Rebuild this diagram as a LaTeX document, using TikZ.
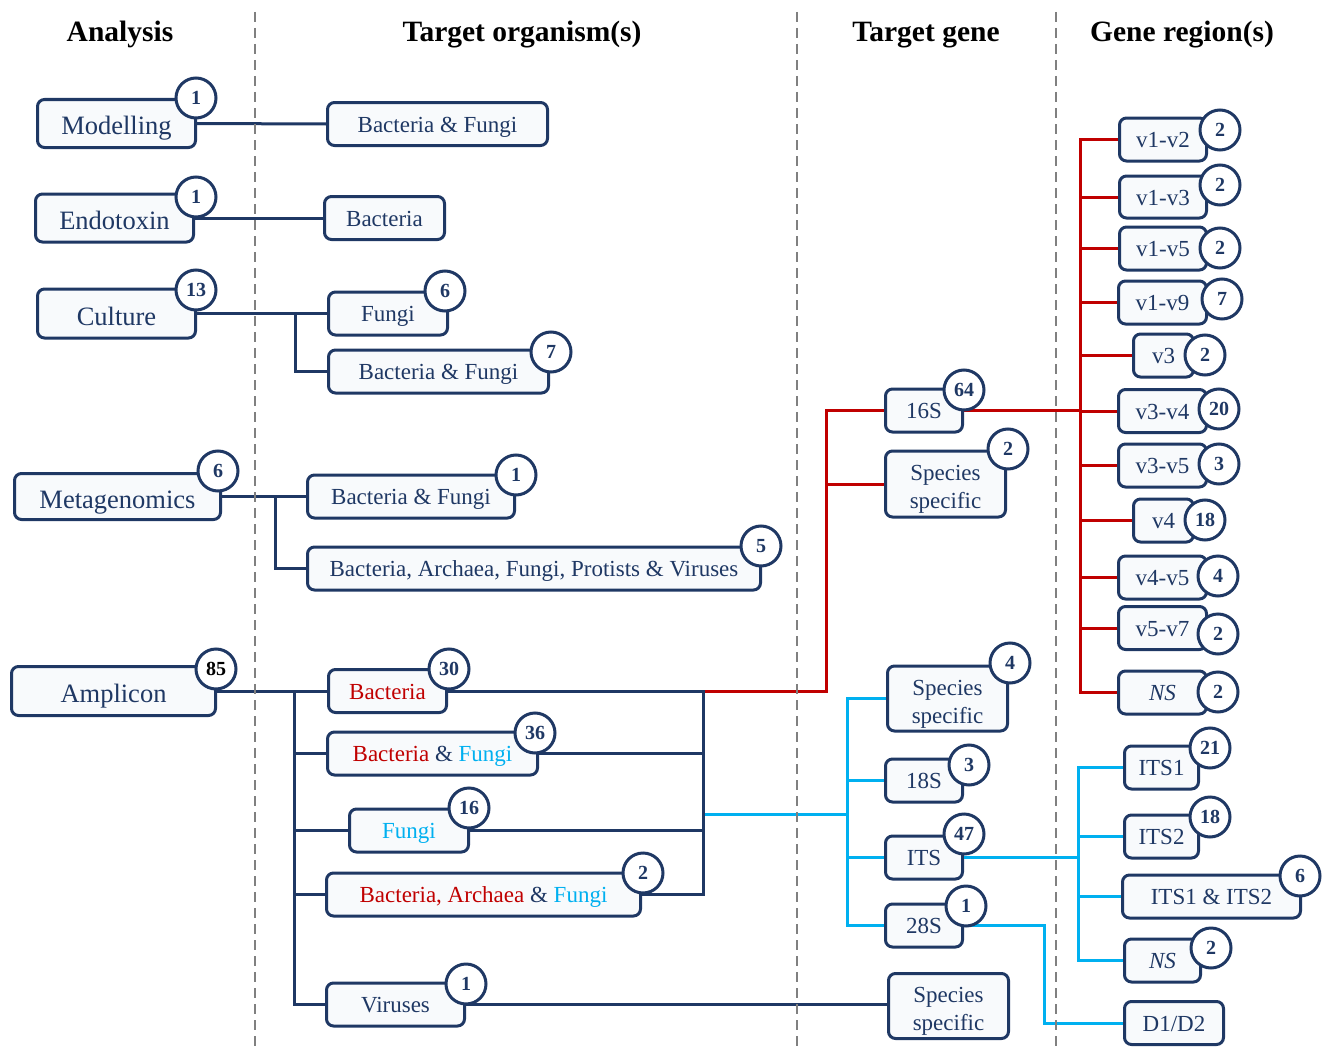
\documentclass[tikz,border=0pt]{standalone}
\usepackage{fontspec}
\setmainfont{Liberation Serif}
\usepackage{tikz}
\usepackage{xcolor}

\definecolor{navy}{RGB}{31,56,100}
\definecolor{bred}{RGB}{192,0,0}
\definecolor{fcyan}{RGB}{0,176,240}
\definecolor{boxfill}{RGB}{248,250,252}
\definecolor{sepgrey}{RGB}{128,128,128}

\newcommand{\specieslabel}{\rule{0pt}{26pt}Species\\specific}

\tikzset{
  box/.style={draw=navy, fill=boxfill, line width=3pt, rounded corners=7pt, inner sep=2pt, text=navy, align=center},
  anabox/.style={box, font=\fontsize{26.5}{30}\selectfont, text height=26pt, text depth=3pt},
  orgbox/.style={box, font=\fontsize{23}{28}\selectfont, text height=20pt, text depth=3.5pt},
  twobox/.style={box, font=\fontsize{23}{28}\selectfont},
  badge/.style={draw=navy, fill=white, circle, line width=3pt, minimum size=40pt, inner sep=0pt, text=navy, font=\fontsize{20}{20}\selectfont\bfseries},
  link/.style={navy, line width=3pt},
  redlink/.style={bred, line width=3pt},
  cyanlink/.style={fcyan, line width=3pt},
  head/.style={font=\fontsize{29.5}{32}\selectfont\bfseries},
  sep/.style={sepgrey, line width=2pt, dash pattern=on 10pt off 6pt}
}

\begin{document}
\begin{tikzpicture}[x=1pt, y=-1pt]
  \useasboundingbox (0,0) rectangle (1326,1049);

  % Headers
  \node[head] (hAna) at (120,34) {Analysis};
  \node[head] (hOrg) at (522,35) {Target organism(s)};
  \node[head] (hGene) at (926,35) {Target gene};
  \node[head] (hReg) at (1182,35) {Gene region(s)};

  % Analysis
  \node[anabox, minimum width=158, minimum height=48] (model) at (116.5,123.5) {Modelling};
  \node[anabox, minimum width=158, minimum height=48] (endo) at (114.5,218) {Endotoxin};
  \node[anabox, minimum width=158, minimum height=49] (cult) at (116.5,313.5) {Culture};
  \node[anabox, minimum width=206, minimum height=46] (meta) at (117.5,496.5) {Metagenomics};
  \node[anabox, minimum width=204, minimum height=49] (ampl) at (113.5,691) {Amplicon};

  % Target organisms
  \node[orgbox, minimum width=220, minimum height=43] (mBF) at (437.5,124) {Bacteria \& Fungi};
  \node[orgbox, minimum width=120, minimum height=43] (eB) at (384.5,218) {Bacteria};
  \node[orgbox, minimum width=119, minimum height=43] (cF) at (388,313.5) {Fungi};
  \node[orgbox, minimum width=220, minimum height=43] (cBF) at (438.5,371.5) {Bacteria \& Fungi};
  \node[orgbox, minimum width=207, minimum height=43] (gBF) at (411,496.5) {Bacteria \& Fungi};
  \node[orgbox, minimum width=453, minimum height=43] (gAll) at (534,568.5) {Bacteria, Archaea, Fungi, Protists \& Viruses};
  \node[orgbox, minimum width=118, minimum height=43] (aB) at (387.5,691) {\textcolor{bred}{Bacteria}};
  \node[orgbox, minimum width=210, minimum height=43] (aBF) at (432.5,753.5) {\textcolor{bred}{Bacteria} \& \textcolor{fcyan}{Fungi}};
  \node[orgbox, minimum width=119, minimum height=43] (aF) at (409,830.5) {\textcolor{fcyan}{Fungi}};
  \node[orgbox, minimum width=314, minimum height=43] (aBAF) at (483.5,894.5) {\textcolor{bred}{Bacteria, Archaea} \& \textcolor{fcyan}{Fungi}};
  \node[orgbox, minimum width=138, minimum height=43] (aV) at (395.5,1004.5) {Viruses};

  % Target genes
  \node[orgbox, minimum width=77, minimum height=43] (g16) at (924,410.5) {16S};
  \node[twobox, minimum width=120, minimum height=66] (gSS1) at (945.5,484) {\specieslabel};
  \node[twobox, minimum width=120, minimum height=65] (gSS2) at (947.5,698.5) {\specieslabel};
  \node[orgbox, minimum width=77, minimum height=43] (g18) at (924,780.5) {18S};
  \node[orgbox, minimum width=77, minimum height=43] (gITS) at (924,857.5) {ITS};
  \node[orgbox, minimum width=77, minimum height=43] (g28) at (924,925.5) {28S};
  \node[twobox, minimum width=120, minimum height=65] (gSS3) at (948.5,1006) {\specieslabel};

  % Gene regions
  \node[orgbox, minimum width=87, minimum height=43] (v12) at (1163,139.5) {v1-v2};
  \node[orgbox, minimum width=87, minimum height=42] (v13) at (1163,197) {v1-v3};
  \node[orgbox, minimum width=87, minimum height=43] (v15) at (1163,248.5) {v1-v5};
  \node[orgbox, minimum width=88, minimum height=43] (v19) at (1162.5,302.5) {v1-v9};
  \node[orgbox, minimum width=60, minimum height=43] (v3) at (1163.5,355.5) {v3};
  \node[orgbox, minimum width=88, minimum height=43] (v34) at (1162.5,411) {v3-v4};
  \node[orgbox, minimum width=88, minimum height=43] (v35) at (1162.5,465.5) {v3-v5};
  \node[orgbox, minimum width=60, minimum height=43] (v4) at (1163.5,520.5) {v4};
  \node[orgbox, minimum width=88, minimum height=43] (v45) at (1162.5,577.5) {v4-v5};
  \node[orgbox, minimum width=88, minimum height=43] (v57) at (1162.5,628) {v5-v7};
  \node[orgbox, minimum width=88, minimum height=43] (vNS) at (1162.5,692.5) {\textit{NS}};
  \node[orgbox, minimum width=74, minimum height=43] (its1) at (1161.5,767.5) {ITS1};
  \node[orgbox, minimum width=74, minimum height=43] (its2) at (1161.5,836.5) {ITS2};
  \node[orgbox, minimum width=178, minimum height=43] (its12) at (1211.5,896.5) {ITS1 \& ITS2};
  \node[orgbox, minimum width=76, minimum height=43] (nsi) at (1162.5,960.5) {\textit{NS}};
  \node[orgbox, minimum width=99, minimum height=43] (d12) at (1174,1023) {D1/D2};

  % Junctions
  \coordinate (cj) at (295,313.5);
  \coordinate (mj) at (275,496.5);
  \coordinate (aj) at (294,691);
  \coordinate (bj) at (703,691);
  \coordinate (rj) at (826,691);
  \coordinate (fj) at (703,814);
  \coordinate (fk) at (847,814);
  \coordinate (vj) at (1080,410.5);
  \coordinate (ij) at (1078,857.5);
  \coordinate (dj) at (1044,925.5);

  % Analysis to organisms
  \draw[link] (model.east) -- (mBF.west);
  \draw[link] (endo.east) -- (eB.west);
  \draw[link] (cult.east) -- (cF.west);
  \draw[link] (cj) |- (cBF.west);
  \draw[link] (meta.east) -- (gBF.west);
  \draw[link] (mj) |- (gAll.west);
  \draw[link] (ampl.east) -- (aB.west);
  \draw[link] (aj) |- (aV.west);
  \draw[link] (aj |- aBF.west) -- (aBF.west);
  \draw[link] (aj |- aF.west) -- (aF.west);
  \draw[link] (aj |- aBAF.west) -- (aBAF.west);

  % Organisms to genes
  \draw[redlink] (bj) -- (rj) |- (g16.west);
  \draw[redlink] (rj |- gSS1.west) -- (gSS1.west);
  \draw[cyanlink] (fj) -- (fk);
  \draw[cyanlink] (gSS2.west) -| (fk) |- (g28.west);
  \draw[cyanlink] (g18.west -| fk) -- (g18.west);
  \draw[cyanlink] (gITS.west -| fk) -- (gITS.west);
  \draw[link] (aB.east) -- (bj) |- (aBAF.east);
  \draw[link] (aBF.east) -- (aBF.east -| bj);
  \draw[link] (aF.east) -- (aF.east -| bj);
  \draw[link] (aV.east) -- (aV.east -| gSS3.west);

  % Genes to regions
  \draw[redlink] (g16.east) -- (vj);
  \draw[redlink] (v12.west) -| (vj) |- (vNS.west);
  \draw[redlink] (v13.west -| vj) -- (v13.west);
  \draw[redlink] (v15.west -| vj) -- (v15.west);
  \draw[redlink] (v19.west -| vj) -- (v19.west);
  \draw[redlink] (v3.west -| vj) -- (v3.west);
  \draw[redlink] (v34.west -| vj) -- (v34.west);
  \draw[redlink] (v35.west -| vj) -- (v35.west);
  \draw[redlink] (v4.west -| vj) -- (v4.west);
  \draw[redlink] (v45.west -| vj) -- (v45.west);
  \draw[redlink] (v57.west -| vj) -- (v57.west);
  \draw[cyanlink] (gITS.east) -- (ij);
  \draw[cyanlink] (its1.west) -| (ij) |- (nsi.west);
  \draw[cyanlink] (its2.west -| ij) -- (its2.west);
  \draw[cyanlink] (its12.west -| ij) -- (its12.west);
  \draw[cyanlink] (g28.east) -- (dj) |- (d12.west);

  % Column separators
  \draw[sep] (255,12) -- (255,1049);
  \draw[sep] (797,12) -- (797,1049);
  \draw[sep] (1056,12) -- (1056,1049);

  % Counts
  \node[badge] (nModel) at (196,98) {1};
  \node[badge] (nEndo) at (196,197) {1};
  \node[badge] (nCult) at (196,290) {13};
  \node[badge] (nMeta) at (218,471) {6};
  \node[badge, text=black] (nAmpl) at (216,669) {85};
  \node[badge] (ncF) at (445,291) {6};
  \node[badge] (ncBF) at (551,352) {7};
  \node[badge] (ngBF) at (516,475) {1};
  \node[badge] (ngAll) at (761,546) {5};
  \node[badge] (naB) at (449,669) {30};
  \node[badge] (naBF) at (535,733) {36};
  \node[badge] (naF) at (469,808) {16};
  \node[badge] (naBAF) at (643,873) {2};
  \node[badge] (naV) at (466,984) {1};
  \node[badge] (ng16) at (964,390) {64};
  \node[badge] (ngSS1) at (1008,449) {2};
  \node[badge] (ngSS2) at (1010,663) {4};
  \node[badge] (ng18) at (969,765) {3};
  \node[badge] (ngITS) at (964,834) {47};
  \node[badge] (ng28) at (966,906) {1};
  \node[badge] (nv12) at (1220,130) {2};
  \node[badge] (nv13) at (1220,185) {2};
  \node[badge] (nv15) at (1220,248) {2};
  \node[badge] (nv19) at (1222,299) {7};
  \node[badge] (nv3) at (1205,355) {2};
  \node[badge] (nv34) at (1219,409) {20};
  \node[badge] (nv35) at (1219,464) {3};
  \node[badge] (nv4) at (1205,520) {18};
  \node[badge] (nv45) at (1218,576) {4};
  \node[badge] (nv57) at (1218,634) {2};
  \node[badge] (nvNS) at (1218,692) {2};
  \node[badge] (nits1) at (1210,748) {21};
  \node[badge] (nits2) at (1210,817) {18};
  \node[badge] (nits12) at (1300,876) {6};
  \node[badge] (nnsi) at (1211,948) {2};
\end{tikzpicture}
\end{document}
